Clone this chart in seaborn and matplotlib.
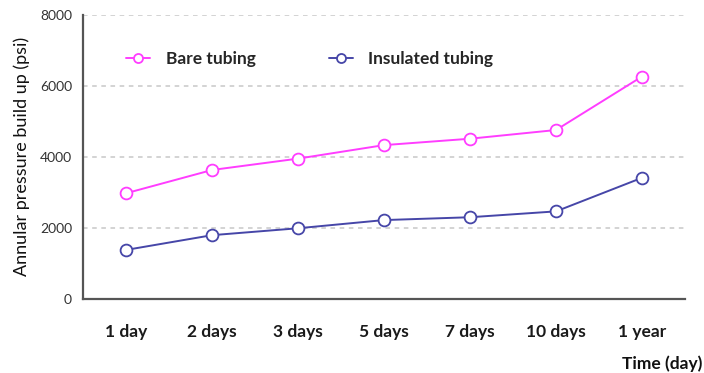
import matplotlib
matplotlib.use("Agg")
import matplotlib.pyplot as plt
from matplotlib.ticker import FixedLocator, MultipleLocator, NullFormatter
import seaborn as sns
import pandas as pd

# Annular pressure build-up over time, bare vs insulated tubing
periods = ["1 day", "2 days", "3 days", "5 days", "7 days", "10 days", "1 year"]
bare_tubing = [2970, 3625, 3945, 4325, 4505, 4750, 6255]
insulated_tubing = [1375, 1790, 1985, 2215, 2295, 2460, 3405]
series_names = ["Bare tubing", "Insulated tubing"]
y_ticks = [0, 2000, 4000, 6000, 8000]

palette = {"Bare tubing": "#FF3DFF", "Insulated tubing": "#4646A8"}

df = pd.DataFrame({
    "Time": periods * 2,
    "Pressure": bare_tubing + insulated_tubing,
    "Series": [series_names[0]] * len(periods) + [series_names[1]] * len(periods),
})

sns.set_style("white")
plt.rcParams["font.family"] = ["Lato", "DejaVu Sans"]

fig = plt.figure(figsize=(7.04, 3.73), dpi=100)
ax = fig.add_axes([0.118, 0.199, 0.855, 0.762])

sns.lineplot(
    data=df, x="Time", y="Pressure", hue="Series", palette=palette,
    sort=False, marker="o", markersize=8.5, linewidth=1.4, ax=ax, legend=False,
)
# hollow markers outlined in the series colour
for line in ax.lines:
    c = line.get_color()
    line.set_markerfacecolor("white")
    line.set_markeredgecolor(c)
    line.set_markeredgewidth(1.3)

n = len(periods)
ax.set_xlim(-0.5, n - 0.5)
ax.set_ylim(0, 8000)

# category boundaries carry the tick marks, centres carry the labels
ax.xaxis.set_major_locator(FixedLocator([i - 0.5 for i in range(n + 1)]))
ax.xaxis.set_major_formatter(NullFormatter())
ax.set_xticks(list(range(n)), minor=True)
ax.set_xticklabels(periods, minor=True, fontsize=12.5, fontweight="bold", color="#1a1a1a")
ax.tick_params(axis="x", which="major", direction="out", length=5, width=1.2, color="#555555")
ax.tick_params(axis="x", which="minor", length=0, pad=18)

ax.set_yticks(y_ticks)
ax.set_yticklabels([str(v) for v in y_ticks], fontsize=10, color="#333333")
ax.yaxis.set_minor_locator(MultipleLocator(500))
ax.tick_params(axis="y", which="major", direction="out", length=5, width=1.2, color="#555555", pad=3)
ax.tick_params(axis="y", which="minor", direction="out", length=3, width=1, color="#777777")

for v in y_ticks[1:]:
    ax.axhline(v, color="#c8c8c8", linestyle=(0, (3, 3)), linewidth=1.1, zorder=0)

for side in ["top", "right"]:
    ax.spines[side].set_visible(False)
for side in ["left", "bottom"]:
    ax.spines[side].set_color("#555555")
    ax.spines[side].set_linewidth(1.6)

ax.set_xlabel("")
ax.set_ylabel("Annular pressure build up (psi)", fontsize=13, color="#111111", labelpad=7)
fig.text(0.997, 0.002, "Time (day)", ha="right", va="bottom", fontsize=12.5,
         fontweight="bold", color="#111111")

handles = [
    plt.Line2D([], [], color=palette[s], marker="o", markersize=6.5,
               markerfacecolor="white", markeredgecolor=palette[s],
               markeredgewidth=1.3, linewidth=1.4)
    for s in series_names
]
leg = ax.legend(handles, series_names, loc="upper left", bbox_to_anchor=(0.045, 0.925),
                ncol=2, frameon=False, handlelength=1.4, handletextpad=0.9,
                columnspacing=4.2, prop={"weight": "bold", "size": 12.5})

fig.savefig("out.png", dpi=100)
